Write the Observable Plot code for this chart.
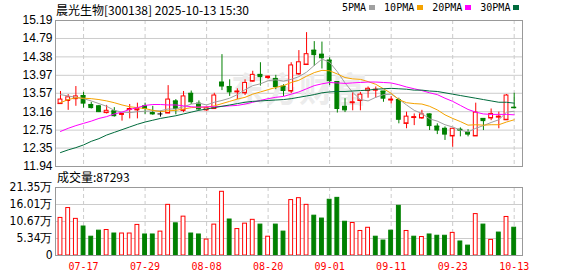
<!DOCTYPE html>
<html><head><meta charset="utf-8">
<script src="https://cdn.jsdelivr.net/npm/d3@7"></script>
<script src="https://cdn.jsdelivr.net/npm/@observablehq/plot@0.6"></script>
<style>
body{margin:0;background:#fff;width:578px;height:276px;overflow:hidden;position:relative}
#title{position:absolute;left:56px;top:1px;font:12px "Noto Sans CJK SC",sans-serif;color:#000;white-space:nowrap}
#legend{position:absolute;left:342px;top:2px;font:10px "DejaVu Sans Mono",monospace;color:#000;white-space:nowrap;display:flex;align-items:center}
#legend .it{display:inline-flex;align-items:center;margin-right:9px}
#legend .sq{display:inline-block;width:6px;height:5px;margin-left:3px}
#vollabel{position:absolute;left:57px;top:168px;font:12px "Noto Sans CJK SC",sans-serif;color:#000;white-space:nowrap}
.abs{position:absolute;left:0}
</style></head><body>
<div id="title">晨光生物[300138] 2025-10-13 15:30</div>
<div id="legend"></div>
<div id="price" class="abs" style="top:14px"></div>
<div id="vollabel"></div>
<div id="vol" class="abs" style="top:180px"></div>
<script>
const dates = ["07-14","07-15","07-16","07-17","07-18","07-21","07-22","07-23","07-24","07-25","07-28","07-29","07-30","07-31","08-01","08-04","08-05","08-06","08-07","08-08","08-11","08-12","08-13","08-14","08-15","08-18","08-19","08-20","08-21","08-22","08-25","08-26","08-27","08-28","08-29","09-01","09-02","09-03","09-04","09-05","09-08","09-09","09-10","09-11","09-12","09-15","09-16","09-17","09-18","09-19","09-22","09-23","09-24","09-25","09-26","09-29","09-30","10-09","10-10","10-13"];
const open  = [13.34,13.41,13.45,13.51,13.31,13.28,13.14,13.17,13.10,13.21,13.20,13.28,13.13,13.11,13.13,13.39,13.19,13.56,13.34,13.20,13.23,13.81,13.71,13.60,13.58,13.84,13.98,13.92,13.89,13.72,13.62,14.00,14.21,14.52,14.43,14.30,13.82,13.27,13.36,13.41,13.63,13.64,13.61,13.42,13.42,12.90,13.03,13.02,13.10,12.83,12.78,12.62,12.76,12.69,12.62,13.00,13.02,13.04,12.98,13.25];
const high  = [13.61,13.54,13.72,13.59,13.37,13.30,13.30,13.25,13.11,13.32,13.35,13.35,13.28,13.17,13.74,13.43,13.61,13.62,13.40,13.26,13.57,14.43,13.87,13.67,13.87,14.06,14.25,13.95,13.97,13.76,14.25,14.52,14.92,14.72,14.71,14.36,13.83,13.45,13.58,13.59,13.71,13.71,13.61,13.50,13.46,13.15,13.11,13.19,13.11,12.89,12.82,12.78,12.80,12.76,13.35,13.00,13.22,13.15,13.54,13.57];
const low   = [13.32,13.19,13.28,13.24,13.22,13.14,13.11,13.04,12.95,13.00,13.00,13.10,13.08,13.04,13.12,13.09,13.14,13.32,13.19,13.17,13.22,13.63,13.50,13.43,13.52,13.82,13.73,13.88,13.65,13.50,13.56,13.97,14.19,14.17,14.11,13.74,13.13,13.14,13.18,13.18,13.46,13.46,13.37,13.33,12.89,12.78,12.85,12.99,12.74,12.65,12.52,12.37,12.60,12.60,12.62,12.74,12.96,12.78,12.98,13.22];
const close = [13.43,13.48,13.50,13.34,13.24,13.15,13.18,13.06,13.11,13.22,13.23,13.22,13.10,13.11,13.43,13.22,13.50,13.37,13.21,13.24,13.52,13.72,13.59,13.61,13.80,13.98,13.93,13.94,13.71,13.62,14.19,14.26,14.44,14.42,14.35,13.84,13.22,13.19,13.37,13.54,13.67,13.65,13.45,13.43,12.98,13.05,13.04,13.10,12.84,12.74,12.65,12.78,12.74,12.65,13.14,12.95,13.11,13.05,13.52,13.24];
const volume = [118000,149000,115000,91000,59000,78000,80000,69000,69000,69000,96000,66000,66000,75000,159000,101000,122000,69000,66000,50000,97000,200000,113000,83000,100000,112000,97000,59000,97000,75000,174000,180000,159000,125000,116000,175000,181000,106000,102000,77000,87000,59000,47000,78000,156000,77000,59000,58000,66000,62000,62000,71000,44000,31000,130000,97000,49000,72000,121000,87293];
const ma5  = [13.54,13.51,13.48,13.45,13.40,13.34,13.28,13.19,13.15,13.14,13.16,13.17,13.18,13.18,13.22,13.22,13.27,13.33,13.35,13.31,13.37,13.41,13.46,13.54,13.65,13.74,13.78,13.85,13.87,13.84,13.88,13.94,14.04,14.19,14.33,14.26,14.05,13.80,13.59,13.43,13.40,13.48,13.54,13.55,13.44,13.31,13.19,13.12,13.00,12.95,12.87,12.82,12.75,12.71,12.79,12.85,12.92,12.98,13.15,13.17];
const ma10 = [13.36,13.43,13.47,13.46,13.45,13.43,13.40,13.36,13.31,13.27,13.25,13.23,13.19,13.16,13.18,13.19,13.22,13.25,13.26,13.26,13.29,13.34,13.39,13.44,13.48,13.55,13.60,13.65,13.70,13.74,13.81,13.86,13.95,14.03,14.08,14.07,14.00,13.92,13.89,13.88,13.83,13.77,13.67,13.57,13.43,13.36,13.34,13.33,13.28,13.20,13.09,13.01,12.94,12.86,12.87,12.86,12.87,12.87,12.93,12.98];
const ma20 = [12.72,12.79,12.85,12.90,12.95,13.01,13.05,13.11,13.15,13.21,13.25,13.30,13.32,13.32,13.31,13.31,13.29,13.27,13.26,13.27,13.27,13.28,13.29,13.30,13.33,13.37,13.41,13.45,13.48,13.50,13.55,13.60,13.67,13.74,13.78,13.81,13.80,13.79,13.80,13.81,13.82,13.82,13.81,13.80,13.76,13.71,13.67,13.63,13.58,13.54,13.46,13.39,13.30,13.21,13.15,13.11,13.10,13.10,13.10,13.09];
const ma30 = [12.25,12.31,12.36,12.42,12.50,12.56,12.64,12.70,12.76,12.82,12.88,12.93,12.97,13.01,13.04,13.07,13.11,13.15,13.19,13.22,13.25,13.28,13.31,13.34,13.37,13.39,13.40,13.41,13.42,13.43,13.45,13.48,13.51,13.54,13.58,13.60,13.61,13.61,13.62,13.63,13.64,13.66,13.67,13.68,13.67,13.66,13.64,13.64,13.62,13.61,13.58,13.55,13.52,13.49,13.46,13.43,13.40,13.37,13.37,13.35];
const tickDates = ["07-17","07-29","08-08","08-20","09-01","09-11","09-23","10-13"];
const priceTicks = [11.94,12.35,12.75,13.16,13.57,13.97,14.38,14.79,15.19];
const volTicks = [0,53400,106700,160100,213500];
const maNames = ["5PMA","10PMA","20PMA","30PMA"];
const lastVolume = 87293;

const maColors = ["#a0a0a0","#f5a300","#ff00ff","#006b3c"];
const RED = "#ff0000", GREEN = "#008000", BLACK = "#000000";

document.getElementById("vollabel").textContent = "成交量:" + lastVolume;
const lg = document.getElementById("legend");
maNames.forEach((n,k)=>{
  const it = document.createElement("span"); it.className="it";
  const t = document.createElement("span"); t.textContent = n;
  const s = document.createElement("span"); s.className="sq"; s.style.background = maColors[k];
  it.appendChild(t); it.appendChild(s); lg.appendChild(it);
});

const candles = dates.map((d,i)=>({i, date:d, o:open[i], h:high[i], l:low[i], c:close[i], v:volume[i],
  up: i === 0 ? close[i] >= open[i] : close[i] > close[i-1]}));
const dir = d => d.c > d.o ? 1 : d.c < d.o ? -1 : 0;
const col = d => dir(d) > 0 ? RED : dir(d) < 0 ? GREEN : BLACK;
const tickIdx = tickDates.map(t => dates.indexOf(t));
const xDomain = [-0.65, 60.08];
const hw = 0.25;
const maData = (arr) => arr.map((v,i)=>({i, v}));

const price = Plot.plot({
  width: 578, height: 162, marginTop: 6, marginBottom: 10, marginLeft: 55, marginRight: 56,
  style: {fontFamily: "'Liberation Sans', Arial, sans-serif", fontSize: "12px", color: "#000", background: "transparent"},
  x: {domain: xDomain, axis: null},
  y: {domain: [11.94, 15.19], ticks: priceTicks, tickFormat: d => d.toFixed(2), tickSize: 0, tickPadding: 3, label: null},
  marks: [
    Plot.ruleY(priceTicks, {stroke: "#cccccc"}),
    Plot.ruleX(tickIdx, {stroke: "#cccccc", strokeDasharray: "4,3"}),
    Plot.text(["东方财富"], {text: d => d, frameAnchor: "middle", dx: 10, dy: -2, fontSize: 34, fontWeight: "bold", fontFamily: "Noto Sans CJK SC", fill: "#ececec"}),
    Plot.ruleX(candles, {x: "i", y1: "l", y2: "h", stroke: col}),
    Plot.rect(candles, {x1: d => d.i - hw, x2: d => d.i + hw, y1: "o", y2: "c", fill: d => dir(d) > 0 ? "#ffffff" : col(d), stroke: col}),
    Plot.ruleY(candles, {y: "o", x1: d => d.i - hw - 0.07, x2: d => d.i + hw + 0.07, stroke: col}),
    Plot.line(maData(ma5),  {x: "i", y: "v", stroke: maColors[0], strokeWidth: 1}),
    Plot.line(maData(ma10), {x: "i", y: "v", stroke: maColors[1], strokeWidth: 1}),
    Plot.line(maData(ma20), {x: "i", y: "v", stroke: maColors[2], strokeWidth: 1}),
    Plot.line(maData(ma30), {x: "i", y: "v", stroke: maColors[3], strokeWidth: 1}),
    Plot.frame({stroke: "#999999"})
  ]
});
document.getElementById("price").appendChild(price);

const volFmt = v => v === 0 ? "0" : (v/10000).toFixed(2) + "万";
const vol = Plot.plot({
  width: 578, height: 96, marginTop: 7, marginBottom: 21, marginLeft: 55, marginRight: 56,
  style: {fontFamily: "'Liberation Sans Narrow', 'DejaVu Sans Condensed', 'Liberation Sans', sans-serif", fontSize: "12px", color: "#000", background: "transparent"},
  x: {domain: xDomain},
  y: {domain: [0, 213500]},
  marks: [
    Plot.ruleY(volTicks, {stroke: "#cccccc"}),
    Plot.ruleX(tickIdx, {stroke: "#cccccc", strokeDasharray: "4,3"}),
    Plot.rect(candles, {x1: d => d.i - hw, x2: d => d.i + hw, y1: 0, y2: "v", fill: d => d.up ? "#ffffff" : GREEN, stroke: d => d.up ? RED : GREEN}),
    Plot.axisY({ticks: volTicks, tickFormat: volFmt, tickSize: 0, tickPadding: 3, label: null}),
    Plot.axisX({ticks: tickIdx, tickFormat: i => dates[i], tickSize: 0, tickPadding: 7, label: null, fill: RED, fontFamily: "'DejaVu Sans Mono', monospace", fontSize: 10}),
    Plot.frame({stroke: "#999999"})
  ]
});
document.getElementById("vol").appendChild(vol);
</script>
</body></html>
